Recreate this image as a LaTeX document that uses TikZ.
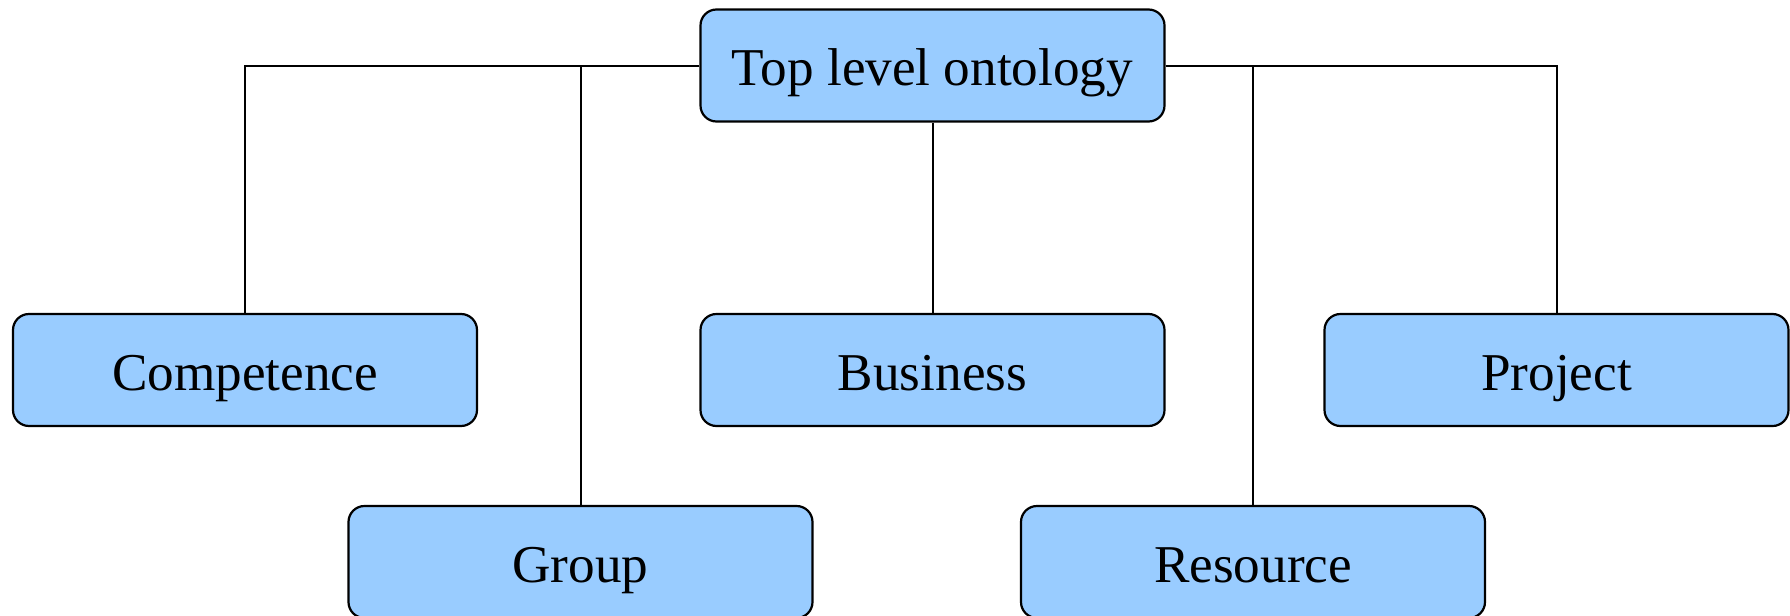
\documentclass[tikz,border=0pt]{standalone}
\usepackage{fontspec}
\setmainfont{Liberation Serif}
\definecolor{boxblue}{HTML}{99CCFF}

\tikzset{
	onto/.style={draw=black, line width=1.1pt, fill=boxblue, rounded corners=8pt,
		minimum width=232pt, minimum height=56pt, inner sep=0pt,
		text height=21pt, text depth=1pt,
		font=\fontsize{26.6}{30}\selectfont},
	link/.style={black, line width=1pt}
}

\begin{document}
\begin{tikzpicture}[x=0.5pt, y=-0.5pt]
		\useasboundingbox (0,0) rectangle (1790,616);

		\node[onto] (top) at (932.5,65.5) {Top level ontology};
		\node[onto] (comp) at (245,370) {Competence};
		\node[onto] (bus) at (932.5,370) {Business};
		\node[onto] (proj) at (1556.5,370) {Project};
		\node[onto] (group) at (580.5,562) {Group};
		\node[onto] (res) at (1253,562) {Resource};

		\draw[link] (top.west) -| (comp.north);
		\draw[link] (top.west) -| (group.north);
		\draw[link] (top.south) -- (bus.north);
		\draw[link] (top.east) -| (res.north);
		\draw[link] (top.east) -| (proj.north);

	\end{tikzpicture}
\end{document}
